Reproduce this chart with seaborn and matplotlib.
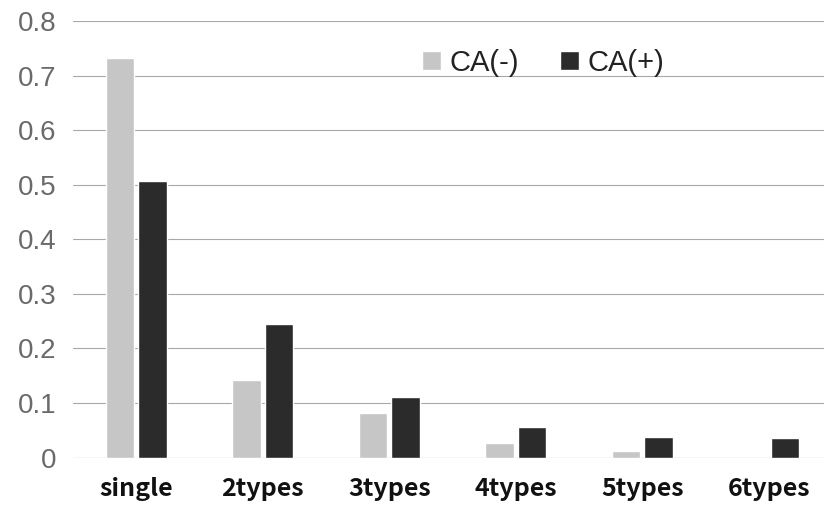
import matplotlib
matplotlib.use("Agg")
import matplotlib.pyplot as plt
import seaborn as sns
import pandas as pd

categories = ["single", "2types", "3types", "4types", "5types", "6types"]
ca_minus = [0.733, 0.142, 0.081, 0.026, 0.012, 0.0]
ca_plus = [0.507, 0.244, 0.111, 0.056, 0.037, 0.036]
series_names = ["CA(-)", "CA(+)"]
y_ticks = [0, 0.1, 0.2, 0.3, 0.4, 0.5, 0.6, 0.7, 0.8]
y_tick_labels = ["0", "0.1", "0.2", "0.3", "0.4", "0.5", "0.6", "0.7", "0.8"]

df = pd.DataFrame({
    "category": categories * 2,
    "value": ca_minus + ca_plus,
    "group": [series_names[0]] * len(categories) + [series_names[1]] * len(categories),
})

sns.set_theme(style="white")
plt.rcParams["font.family"] = ["Noto Sans CJK JP", "DejaVu Sans"]

fig = plt.figure(figsize=(8.24, 5.05), dpi=100)
ax = fig.add_axes([0.0886, 0.094, 0.921, 0.864])

sns.barplot(data=df, x="category", y="value", hue="group", order=categories,
            hue_order=series_names, palette=["#c6c6c6", "#2b2b2b"],
            width=0.51, gap=0.12, saturation=1, ax=ax, legend=True)

ax.set_ylim(0, 0.8)
ax.set_yticks(y_ticks)
ax.set_yticklabels(y_tick_labels, fontsize=20, color="#6a6a6a",
                   family=["Liberation Sans", "DejaVu Sans"])
ax.set_xticks(range(len(categories)))
ax.set_xticklabels(categories, fontsize=18, fontweight="bold", color="#111111")
ax.tick_params(axis="y", length=0, pad=12)
ax.tick_params(axis="x", length=0, pad=14)
ax.set_xlabel("")
ax.set_ylabel("")
ax.yaxis.grid(True, color="#a8a8a8", linewidth=0.8)
ax.set_axisbelow(True)
for s in ax.spines.values():
    s.set_visible(False)
ax.axhline(0, color="#a8a8a8", linewidth=0.8, zorder=0.5)

leg = ax.legend(loc="upper left", bbox_to_anchor=(0.48, 0.955),
                bbox_transform=fig.transFigure, ncol=2, frameon=False,
                handlelength=0.65, handleheight=0.65, handletextpad=0.3,
                columnspacing=1.4,
                prop={"family": ["Liberation Sans", "DejaVu Sans"], "size": 21})
for t in leg.get_texts():
    t.set_color("#222222")

fig.savefig("out.png", dpi=100)
